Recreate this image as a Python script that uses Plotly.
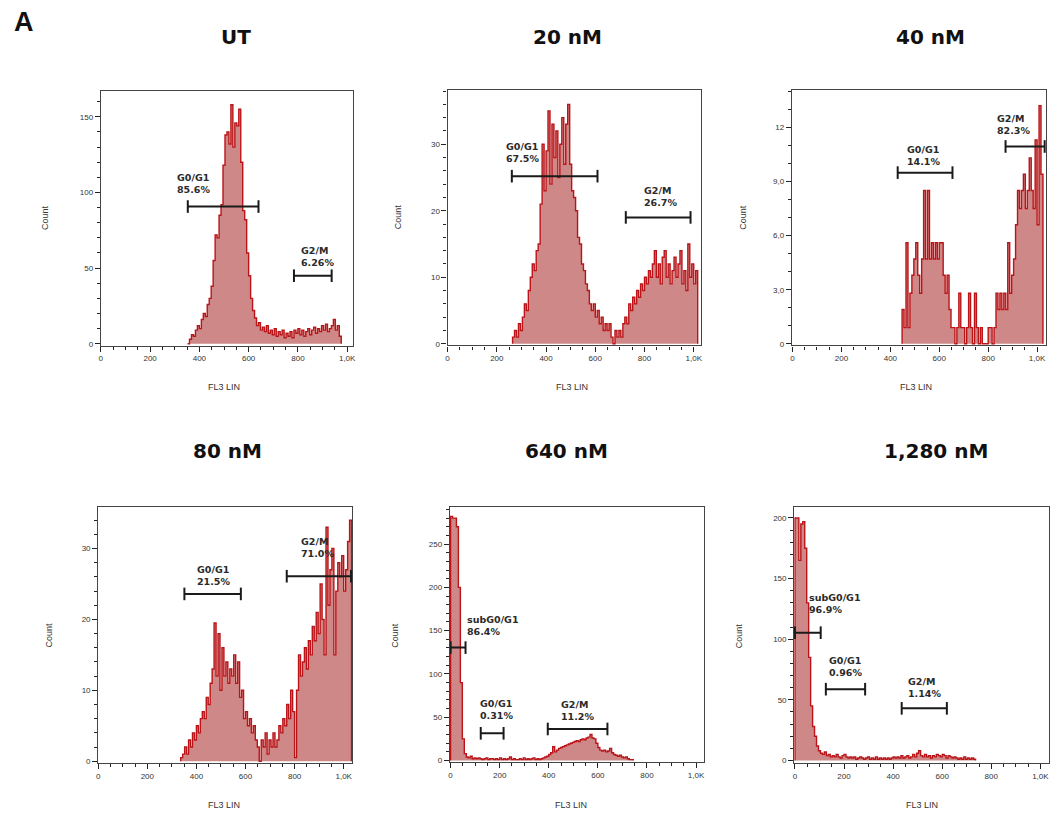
import plotly.graph_objects as go

W, H = 1057, 820
BIN = 8

panel_titles = ["UT", "20 nM", "40 nM", "80 nM", "640 nM", "1,280 nM"]

# histogram counts (FL3 LIN channels, bins of 8), each starting at the given channel
ut_start = 352
ut_counts = [0, 3, 6, 5, 9, 12, 10, 16, 20, 18, 26, 30, 38, 55, 72, 70, 85, 92, 118, 138,
             140, 132, 158, 130, 146, 144, 155, 120, 88, 82, 60, 45, 30, 22, 17, 12, 14, 9, 11, 8,
             12, 7, 9, 6, 10, 5, 8, 6, 9, 4, 7, 5, 8, 4, 9, 7, 10, 6, 9, 5,
             8, 10, 6, 9, 11, 7, 10, 8, 12, 9, 13, 8, 10, 12, 16, 9, 12, 5]

nm20_start = 264
nm20_counts = [1, 2, 1, 3, 2, 4, 6, 5, 8, 10, 12, 11, 14, 15, 21, 30, 23, 29, 35, 24,
               33, 28, 32, 25, 30, 34, 27, 33, 36, 27, 23, 22, 20, 16, 15, 12, 11, 9, 8, 6,
               5, 6, 4, 5, 3, 4, 2, 3, 2, 3, 1, 0, 2, 1, 2, 1, 3, 4, 3, 6,
               5, 7, 6, 8, 7, 9, 8, 10, 9, 11, 10, 12, 14, 10, 12, 9, 13, 14, 10, 12,
               9, 11, 13, 10, 12, 14, 9, 11, 8, 15, 10, 12, 9, 11]

nm40_start = 448
nm40_counts = [1.9, 0.9, 5.6, 0.9, 2.8, 3.8, 4.7, 5.6, 3.8, 2.8, 4.7, 8.5, 4.7, 8.5, 4.7, 5.6,
               4.7, 5.6, 4.7, 5.6, 5.6, 3.8, 2.8, 3.8, 1.9, 0.9, 0.9, 0, 0.9, 2.8, 0.9, 0.9,
               0, 0.9, 2.8, 0.9, 0, 2.8, 0.9, 0, 0.9, 0, 0, 0, 0.9, 0.9, 0, 0.9,
               2.8, 1.9, 2.8, 1.9, 2.8, 1.9, 5.6, 2.8, 3.8, 4.7, 6.6, 8.5, 7.5, 8.5, 9.4, 7.5,
               8.5, 10.3, 8.5, 7.5, 11.3, 6.6, 13.2, 9.4]

nm80_start = 336
nm80_counts = [0.5, 1, 2, 1, 3, 2, 4, 3, 5, 4, 6, 7, 6, 9, 8, 11, 13, 19.5, 12, 18,
               10, 16, 12, 14, 11, 13, 12, 15, 11, 14, 9, 10, 6, 7, 5, 6, 4, 5, 3, 2,
               0, 3, 2, 4, 1, 3, 2, 4, 2, 3, 5, 4, 6, 5, 8, 6, 10, 7, 0.5, 10,
               15, 12, 14, 16, 13, 17, 15, 19, 17, 21, 18, 25, 20, 15, 33, 22, 27, 30, 15, 24,
               28, 26, 29, 24, 27, 31, 34]

nm640_start = 0
nm640_counts = [282, 280, 280, 270, 200, 90, 25, 8, 4, 3, 5, 2, 3, 2, 3, 2, 1, 2, 3, 1,
                2, 2, 1, 2, 1, 3, 1, 2, 1, 2, 4, 1, 2, 1, 1, 2, 1, 3, 1, 2,
                1, 2, 3, 1, 2, 1, 2, 3, 4, 5, 7, 9, 16, 10, 12, 14, 15, 16, 17, 18,
                19, 20, 21, 22, 23, 22, 24, 25, 24, 26, 27, 30, 26, 25, 20, 15, 12, 11, 12, 10,
                11, 14, 9, 7, 6, 5, 6, 4, 3, 4, 2, 1, 1]

nm1280_start = 0
nm1280_counts = [200, 200, 165, 195, 197, 175, 130, 85, 45, 28, 20, 12, 8, 6, 5, 7, 4, 5, 3, 4,
                 3, 5, 3, 2, 4, 5, 3, 2, 3, 2, 3, 1, 2, 3, 2, 1, 2, 3, 1, 2,
                 1, 3, 1, 2, 1, 2, 1, 2, 1, 2, 3, 2, 3, 2, 4, 2, 3, 4, 2, 3,
                 5, 3, 6, 8, 4, 3, 5, 3, 4, 2, 4, 3, 5, 4, 3, 5, 4, 2, 4, 3,
                 2, 3, 2, 1, 2, 1, 3, 1, 2, 1, 2, 1]

starts = [ut_start, nm20_start, nm40_start, nm80_start, nm640_start, nm1280_start]
counts = [ut_counts, nm20_counts, nm40_counts, nm80_counts, nm640_counts, nm1280_counts]

# gates: (name, percent, x_from, x_to, bar_level)
gates = [
    [("G0/G1", "85.6%", 353, 640, 90.7), ("G2/M", "6.26%", 784, 937, 45)],
    [("G0/G1", "67.5%", 261, 609, 25.2), ("G2/M", "26.7%", 724, 987, 19)],
    [("G0/G1", "14.1%", 430, 654, 9.49), ("G2/M", "82.3%", 871, 1031, 10.94)],
    [("G0/G1", "21.5%", 351, 581, 23.6), ("G2/M", "71.0%", 768, 1030, 26.1)],
    [("subG0/G1", "86.4%", 0, 61, 130.4), ("G0/G1", "0.31%", 123, 216, 31.4), ("G2/M", "11.2%", 396, 639, 36.4)],
    [("subG0/G1", "96.9%", 0, 105, 105.4), ("G0/G1", "0.96%", 126, 286, 58.8), ("G2/M", "1.14%", 435, 619, 43)],
]
# gate label anchor (left x, bottom y) in data units
gate_labels = [
    [(302, 96.8), (803, 48.7)],
    [(228, 26.7), (791, 20.1)],
    [(460, 9.67), (828, 11.4)],
    [(396, 24.3), (817, 28.2)],
    [(58, 140), (112, 43), (440, 42)],
    [(51, 118.6), (132, 66), (453, 48.7)],
]

y_ticks = [[0, 50, 100, 150], [0, 10, 20, 30], [0, 3, 6, 9, 12],
           [0, 10, 20, 30], [0, 50, 100, 150, 200, 250], [0, 50, 100, 150, 200]]
y_ticktext = [["0", "50", "100", "150"], ["0", "10", "20", "30"], ["0", "3,0", "6,0", "9,0", "12"],
              ["0", "10", "20", "30"], ["0", "50", "100", "150", "200", "250"],
              ["0", "50", "100", "150", "200"]]
y_minor = [10, 2, 1, 2, 10, 10]
x_ticks = [0, 200, 400, 600, 800, 1000]
x_ticktext = ["0", "200", "400", "600", "800", "1,0K"]

# layout geometry (pixels)
boxes = [  # left, right, top, bottom
    (99.3, 353, 91, 347), (447.7, 702.7, 90.7, 346.7), (793.7, 1049, 90.7, 346.7),
    (96.7, 351.7, 509.3, 765.7), (450, 705, 509.3, 765), (796, 1051.7, 509.3, 765.7)]
x_ranges = [(0, 1025), (0, 1031), (-2.4, 1036.6), (0, 1034), (-2.8, 1031), (-2.8, 1034)]
y_ranges = [(-1.3, 167.3), (-0.25, 38.1), (-0.09, 14.05), (-0.24, 35.8), (-1.96, 292.3), (-2, 208.7)]
title_pos = [(235, 37), (568, 37), (933, 37), (227, 453), (567, 453), (938, 453)]
count_pos = [(43, 218), (398, 218), (745, 218), (47, 637), (395, 638), (740, 638)]
fl3_pos = [(223, 388), (573, 388), (918, 388), (223, 808), (572, 808), (924, 808)]

FILL = "rgb(206,136,136)"
LINE = "rgb(186,20,24)"
FONT = "Liberation Sans, Arial, sans-serif"
BOLDFONT = "DejaVu Sans, Verdana, sans-serif"

fig = go.Figure()
annotations = []

for i in range(6):
    ax = "" if i == 0 else str(i + 1)
    xa, ya = "x" + ax, "y" + ax
    st, vals = starts[i], counts[i]
    edges = [st + k * BIN for k in range(len(vals))]
    end = st + len(vals) * BIN
    xs = [st] + edges + [end, end]
    ys = [0] + list(vals) + [vals[-1], 0]
    fig.add_trace(go.Scatter(x=xs, y=ys, mode="lines", line=dict(color=LINE, width=1.4, shape="hv"),
                             fill="tozeroy", fillcolor=FILL, xaxis=xa, yaxis=ya,
                             showlegend=False, hoverinfo="skip"))
    for (name, pct, x0, x1, yl), (lx, ly) in zip(gates[i], gate_labels[i]):
        fig.add_trace(go.Scatter(x=[x0, x1], y=[yl, yl], mode="lines+markers",
                                 line=dict(color="#1a1a1a", width=2),
                                 marker=dict(symbol="line-ns", size=9,
                                             line=dict(color="#1a1a1a", width=2)),
                                 xaxis=xa, yaxis=ya, showlegend=False, hoverinfo="skip",
                                 cliponaxis=False))
        annotations.append(dict(x=lx, y=ly, xref=xa, yref=ya, xanchor="left", yanchor="bottom",
                                text=f"<b>{name}<br>{pct}</b>", showarrow=False, align="left",
                                font=dict(family=BOLDFONT, size=9.5, color="#2a2a2a")))
    l, r, t, b = boxes[i]
    xdom = [l / W, r / W]
    ydom = [1 - b / H, 1 - t / H]
    common = dict(showline=True, linecolor="#444", linewidth=1.2, mirror=True, showgrid=False,
                  zeroline=False, ticks="outside", tickcolor="#222", ticklen=5,
                  tickfont=dict(family=FONT, size=8, color="#333"))
    fig.layout["xaxis" + ax] = dict(domain=xdom, range=list(x_ranges[i]), anchor=ya,
                                    tickvals=x_ticks, ticktext=x_ticktext,
                                    minor=dict(dtick=50, tick0=0, ticks="outside", ticklen=3,
                                               tickcolor="#222", showgrid=False),
                                    **common)
    fig.layout["yaxis" + ax] = dict(domain=ydom, range=list(y_ranges[i]), anchor=xa,
                                    tickvals=y_ticks[i], ticktext=y_ticktext[i],
                                    minor=dict(dtick=y_minor[i], tick0=0, ticks="outside",
                                               ticklen=3, tickcolor="#222", showgrid=False),
                                    **common)
    tx, ty = title_pos[i]
    annotations.append(dict(x=tx / W, y=1 - ty / H, xref="paper", yref="paper", showarrow=False,
                            text=f"<b>{panel_titles[i]}</b>", xanchor="center", yanchor="middle",
                            font=dict(family=BOLDFONT, size=20, color="#111")))
    cx, cy = count_pos[i]
    annotations.append(dict(x=cx / W, y=1 - cy / H, xref="paper", yref="paper", showarrow=False,
                            text="Count", textangle=-90, xanchor="center", yanchor="middle",
                            font=dict(family=FONT, size=9, color="#333")))
    fx, fy = fl3_pos[i]
    annotations.append(dict(x=fx / W, y=1 - fy / H, xref="paper", yref="paper", showarrow=False,
                            text="FL3 LIN", xanchor="center", yanchor="middle",
                            font=dict(family=FONT, size=9, color="#333")))

annotations.append(dict(x=22 / W, y=1 - 22 / H, xref="paper", yref="paper", showarrow=False,
                        text="<b>A</b>", xanchor="center", yanchor="middle",
                        font=dict(family=FONT, size=27, color="#111")))

fig.update_layout(width=W, height=H, margin=dict(l=0, r=0, t=0, b=0),
                  paper_bgcolor="white", plot_bgcolor="white", annotations=annotations,
                  font=dict(family=FONT))
fig.write_html("out.html", config={"displayModeBar": False},
               post_script="document.body.style.margin='0';")
